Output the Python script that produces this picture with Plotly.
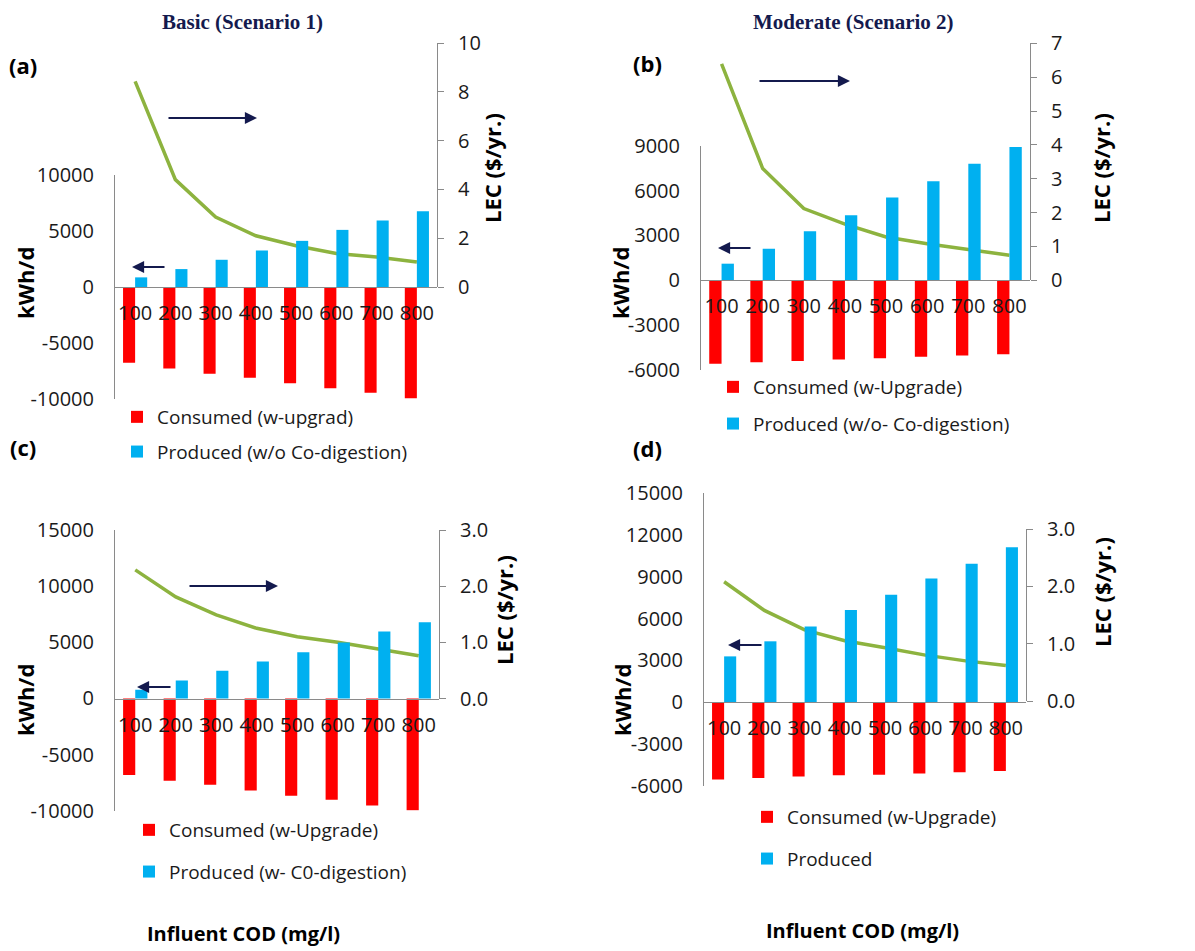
import plotly.graph_objects as go

W, H = 1195, 951
OFF = 8  # page body margin of the rendered html

cod = [100, 200, 300, 400, 500, 600, 700, 800]
cod_labels = ["100", "200", "300", "400", "500", "600", "700", "800"]

a_consumed = [-6770, -7270, -7740, -8100, -8600, -9050, -9440, -9940]
a_produced = [860, 1600, 2430, 3260, 4120, 5100, 5930, 6770]
a_lec = [8.43, 4.40, 2.87, 2.10, 1.69, 1.37, 1.23, 1.02]

b_consumed = [-5590, -5480, -5390, -5300, -5210, -5120, -5030, -4940]
b_produced = [1110, 2110, 3280, 4350, 5540, 6630, 7800, 8910]
b_lec = [6.39, 3.30, 2.12, 1.66, 1.28, 1.08, 0.91, 0.74]

c_consumed = [-6820, -7330, -7680, -8190, -8660, -9020, -9530, -9970]
c_produced = [770, 1600, 2460, 3290, 4120, 4990, 5960, 6790]
c_lec = [2.29, 1.81, 1.49, 1.25, 1.10, 1.00, 0.88, 0.76]

d_consumed = [-5540, -5420, -5320, -5230, -5200, -5110, -5010, -4920]
d_produced = [3290, 4370, 5440, 6610, 7710, 8880, 9930, 11120]
d_lec = [2.08, 1.58, 1.24, 1.05, 0.93, 0.80, 0.70, 0.62]

# left (kWh/d) tick values
a_left_ticks = [-10000, -5000, 0, 5000, 10000]
b_left_ticks = [-6000, -3000, 0, 3000, 6000, 9000]
c_left_ticks = [-10000, -5000, 0, 5000, 10000, 15000]
d_left_ticks = [-6000, -3000, 0, 3000, 6000, 9000, 12000, 15000]
# right (LEC) tick values
a_right_ticks = [0, 2, 4, 6, 8, 10]
b_right_ticks = [0, 1, 2, 3, 4, 5, 6, 7]
c_right_ticks = [0.0, 1.0, 2.0, 3.0]
d_right_ticks = [0.0, 1.0, 2.0, 3.0]

legend_names = [
    ("Consumed (w-upgrad)", "Produced (w/o Co-digestion)"),
    ("Consumed (w-Upgrade)", "Produced (w/o- Co-digestion)"),
    ("Consumed (w-Upgrade)", "Produced (w- C0-digestion)"),
    ("Consumed (w-Upgrade)", "Produced"),
]
titles = ["Basic (Scenario 1)", "Moderate (Scenario 2)"]
panel_tags = ["(a)", "(b)", "(c)", "(d)"]

RED = "#FF0000"
BLUE = "#00B0F0"
GREEN = "#8DB33F"
NAVY = "#141a4e"
AXIS = "#8a8a8a"
TXT = "#1a1a1a"
FONT = "Open Sans"


def px(x):
    return (x - OFF) / W


def py(y):
    return 1 - (y - OFF) / H


def fmt_int(v):
    return str(int(v))


panels = [
    dict(data=(a_consumed, a_produced, a_lec), xl=115, xr=437, lr=(-10000, 10000), lpx=(175, 399),
         lt=a_left_ticks, rr=(0, 10), rpx=(43, 287), rt=a_right_ticks, rfmt="{:d}", zero=287),
    dict(data=(b_consumed, b_produced, b_lec), xl=701, xr=1030, lr=(-6000, 9000), lpx=(145.7, 370),
         lt=b_left_ticks, rr=(0, 7), rpx=(43.3, 280.3), rt=b_right_ticks, rfmt="{:d}", zero=280.3),
    dict(data=(c_consumed, c_produced, c_lec), xl=115, xr=439, lr=(-10000, 15000), lpx=(530, 810.7),
         lt=c_left_ticks, rr=(0, 3), rpx=(530, 698.5), rt=c_right_ticks, rfmt="{:.1f}", zero=698.5),
    dict(data=(d_consumed, d_produced, d_lec), xl=704, xr=1026, lr=(-6000, 15000), lpx=(493, 786),
         lt=d_left_ticks, rr=(0, 3), rpx=(529, 701), rt=d_right_ticks, rfmt="{:.1f}", zero=702.3),
]

legend_pos = [(117, 417, 33), (713, 387, 35), (129, 830, 40), (747, 817, 40)]

fig = go.Figure()
layout = dict(
    width=W, height=H,
    margin=dict(l=0, r=0, t=0, b=0, pad=0, autoexpand=False),
    paper_bgcolor="white", plot_bgcolor="rgba(0,0,0,0)",
    barmode="group", bargap=0.4, bargroupgap=0.0,
    showlegend=True,
    font=dict(family=FONT, color=TXT),
)

tickfont = dict(family=FONT, size=20, color=TXT)

# line traces first (drawn below bars)
for i, p in enumerate(panels):
    k = i + 1
    cons, prod, lec = p["data"]
    fig.add_trace(go.Scatter(x=cod, y=lec, mode="lines", line=dict(color=GREEN, width=3.5),
                             xaxis=f"x{k}", yaxis=f"y{k}", showlegend=False, hoverinfo="skip"))
    layout[f"xaxis{k}"] = dict(domain=[px(p["xl"]), px(p["xr"])], range=[50, 850], visible=False,
                               anchor=f"y{k}", fixedrange=True, automargin=False)
    layout[f"yaxis{k}"] = dict(domain=[py(p["rpx"][1]), py(p["rpx"][0])], range=list(p["rr"]),
                               anchor=f"x{k}", side="right", showline=True, linecolor=AXIS, linewidth=1,
                               ticks="outside", ticklen=6, tickcolor=AXIS,
                               tickvals=p["rt"], ticktext=[p["rfmt"].format(v) for v in p["rt"]],
                               showgrid=False, zeroline=False, tickfont=tickfont,
                               ticklabelstandoff=10, automargin=False)

for i, p in enumerate(panels):
    k = i + 5
    cons, prod, lec = p["data"]
    lname = "legend" if i == 0 else f"legend{i + 1}"
    fig.add_trace(go.Bar(x=cod, y=cons, name=legend_names[i][0], marker=dict(color=RED, line=dict(width=0)),
                         xaxis=f"x{k}", yaxis=f"y{k}", legend=lname, legendgroup=f"g{i}a"))
    fig.add_trace(go.Bar(x=cod, y=prod, name=legend_names[i][1], marker=dict(color=BLUE, line=dict(width=0)),
                         xaxis=f"x{k}", yaxis=f"y{k}", legend=lname, legendgroup=f"g{i}b"))
    layout[f"xaxis{k}"] = dict(domain=[px(p["xl"]), px(p["xr"])], range=[50, 850], anchor="free",
                               position=py(p["zero"]), side="bottom", showline=True, linecolor=AXIS,
                               linewidth=1.2, tickvals=cod, ticktext=cod_labels, ticks="", showgrid=False,
                               zeroline=False, tickfont=tickfont, ticklabelstandoff=8, fixedrange=True,
                               automargin=False)
    layout[f"yaxis{k}"] = dict(domain=[py(p["lpx"][1]), py(p["lpx"][0])], range=list(p["lr"]),
                               anchor=f"x{k}", side="left", showline=True, linecolor=AXIS, linewidth=1,
                               ticks="", tickvals=p["lt"], ticktext=[fmt_int(v) for v in p["lt"]],
                               showgrid=False, zeroline=False, tickfont=tickfont, ticklabelstandoff=16,
                               automargin=False)
    lx, ly, gap = legend_pos[i]
    layout[lname] = dict(x=px(lx), y=py(ly - 19), xanchor="left", yanchor="top",
                         font=dict(family=FONT, size=19, color=TXT), bgcolor="rgba(0,0,0,0)",
                         tracegroupgap=gap - 26, traceorder="grouped", itemsizing="constant")

annotations = []

for t, cx in zip(titles, [242, 853]):
    annotations.append(dict(text=f"<b>{t}</b>", x=px(cx), y=1.0, xref="paper", yref="paper",
                            showarrow=False, font=dict(family="Liberation Serif", size=21, color=NAVY),
                            xanchor="center", yanchor="top"))

for t, (cx, cy) in zip(panel_tags, [(23, 65), (647, 63), (23, 447), (647, 448)]):
    annotations.append(dict(text=f"<b>{t}</b>", x=px(cx), y=py(cy), xref="paper", yref="paper",
                            showarrow=False, font=dict(family=FONT, size=22, color="#000000"),
                            xanchor="center", yanchor="middle"))

for cx, cy in [(25, 283), (620, 283), (25, 700), (622, 700)]:
    annotations.append(dict(text="<b>kWh/d</b>", x=px(cx), y=py(cy), xref="paper", yref="paper",
                            showarrow=False, textangle=-90, font=dict(family=FONT, size=22, color="#000000"),
                            xanchor="center", yanchor="middle"))
for cx, cy in [(492, 168), (1101, 168), (504, 610), (1102, 592)]:
    annotations.append(dict(text="<b>LEC ($/yr.)</b>", x=px(cx), y=py(cy), xref="paper", yref="paper",
                            showarrow=False, textangle=-90, font=dict(family=FONT, size=22, color="#000000"),
                            xanchor="center", yanchor="middle"))
for cx, cy in [(243, 933), (862, 930)]:
    annotations.append(dict(text="<b>Influent COD (mg/l)</b>", x=px(cx), y=py(cy), xref="paper", yref="paper",
                            showarrow=False, font=dict(family=FONT, size=20, color="#000000"),
                            xanchor="center", yanchor="middle"))

arrows = [(167, 257, 118), (166, 132, 267), (758, 850, 81), (752, 718, 248),
          (188, 278, 586), (172, 137, 687), (763, 728, 645)]
for tx, hx, yy in arrows:
    annotations.append(dict(text="", x=px(hx), y=py(yy), xref="paper", yref="paper",
                            ax=tx - hx, ay=0, axref="pixel", ayref="pixel", showarrow=True,
                            arrowhead=2, arrowsize=1.1, arrowwidth=2.2, arrowcolor=NAVY))

layout["annotations"] = annotations
fig.update_layout(**layout)
fig.write_html("out.html")
